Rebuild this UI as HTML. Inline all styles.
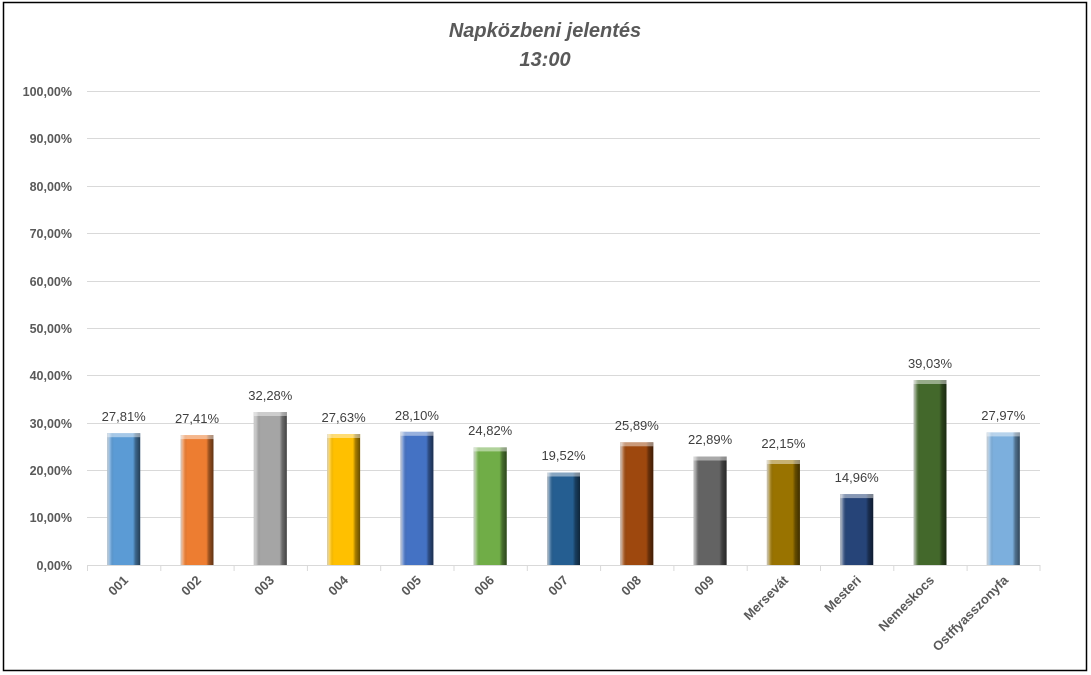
<!DOCTYPE html>
<html><head><meta charset="utf-8"><style>
body{margin:0;background:#fff;}
svg{display:block;font-family:"Liberation Sans",Calibri,sans-serif;}
</style></head><body>
<svg width="1091" height="675" viewBox="0 0 1091 675">
<defs>
<linearGradient id="sh" x1="0" x2="1" y1="0" y2="0">
<stop offset="0" stop-color="#c8c8c8" stop-opacity="0.9"/>
<stop offset="0.1" stop-color="#fff" stop-opacity="0.2"/>
<stop offset="0.2" stop-color="#000" stop-opacity="0"/>
<stop offset="0.78" stop-color="#000" stop-opacity="0"/>
<stop offset="0.86" stop-color="#000" stop-opacity="0.35"/>
<stop offset="1" stop-color="#000" stop-opacity="0.6"/>
</linearGradient>
</defs>
<rect x="0" y="0" width="1091" height="675" fill="#fff"/>
<rect x="3.5" y="2.5" width="1083" height="668" fill="#fff" stroke="#000" stroke-width="1.5"/>
<text x="545" y="37" text-anchor="middle" font-size="20" font-weight="bold" font-style="italic" fill="#595959">Napközbeni jelentés</text>
<text x="545" y="66" text-anchor="middle" font-size="20" font-weight="bold" font-style="italic" fill="#595959">13:00</text>
<g stroke="#d9d9d9" stroke-width="1">
<line x1="87" x2="1040" y1="91.5" y2="91.5"/><line x1="87" x2="1040" y1="138.5" y2="138.5"/>
<line x1="87" x2="1040" y1="186.5" y2="186.5"/><line x1="87" x2="1040" y1="233.5" y2="233.5"/>
<line x1="87" x2="1040" y1="281.5" y2="281.5"/><line x1="87" x2="1040" y1="328.5" y2="328.5"/>
<line x1="87" x2="1040" y1="375.5" y2="375.5"/><line x1="87" x2="1040" y1="423.5" y2="423.5"/>
<line x1="87" x2="1040" y1="470.5" y2="470.5"/><line x1="87" x2="1040" y1="517.5" y2="517.5"/>
<line x1="87" x2="1040" y1="565.5" y2="565.5"/>
<line x1="87.5" x2="87.5" y1="565" y2="571"/><line x1="160.8" x2="160.8" y1="565" y2="571"/>
<line x1="234.1" x2="234.1" y1="565" y2="571"/><line x1="307.4" x2="307.4" y1="565" y2="571"/>
<line x1="380.7" x2="380.7" y1="565" y2="571"/><line x1="454" x2="454" y1="565" y2="571"/>
<line x1="527.3" x2="527.3" y1="565" y2="571"/><line x1="600.6" x2="600.6" y1="565" y2="571"/>
<line x1="673.9" x2="673.9" y1="565" y2="571"/><line x1="747.2" x2="747.2" y1="565" y2="571"/>
<line x1="820.5" x2="820.5" y1="565" y2="571"/><line x1="893.8" x2="893.8" y1="565" y2="571"/>
<line x1="967.1" x2="967.1" y1="565" y2="571"/><line x1="1040" x2="1040" y1="565" y2="571"/>
</g>
<g font-size="12.5" font-weight="bold" fill="#595959" text-anchor="end">
<text x="72" y="96">100,00%</text><text x="72" y="143">90,00%</text><text x="72" y="191">80,00%</text>
<text x="72" y="238">70,00%</text><text x="72" y="286">60,00%</text><text x="72" y="333">50,00%</text>
<text x="72" y="380">40,00%</text><text x="72" y="428">30,00%</text><text x="72" y="475">20,00%</text>
<text x="72" y="522">10,00%</text><text x="72" y="570">0,00%</text>
</g>
<g>
<rect x="107.2" y="433.2" width="33" height="131.8" fill="#5B9BD5"/>
<rect x="180.5" y="435.1" width="33" height="129.9" fill="#ED7D31"/>
<rect x="253.8" y="412" width="33" height="153" fill="#A5A5A5"/>
<rect x="327.1" y="434" width="33" height="131" fill="#FFC000"/>
<rect x="400.4" y="431.8" width="33" height="133.2" fill="#4472C4"/>
<rect x="473.7" y="447.4" width="33" height="117.6" fill="#70AD47"/>
<rect x="547" y="472.5" width="33" height="92.5" fill="#255E91"/>
<rect x="620.3" y="442.3" width="33" height="122.7" fill="#9E480E"/>
<rect x="693.6" y="456.5" width="33" height="108.5" fill="#636363"/>
<rect x="766.9" y="460" width="33" height="105" fill="#997300"/>
<rect x="840.2" y="494.1" width="33" height="70.9" fill="#264478"/>
<rect x="913.5" y="380" width="33" height="185" fill="#43682B"/>
<rect x="986.8" y="432.4" width="33" height="132.6" fill="#7CAFDD"/>
</g>
<g fill="url(#sh)">
<rect x="107.2" y="433.2" width="33" height="131.8"/><rect x="180.5" y="435.1" width="33" height="129.9"/>
<rect x="253.8" y="412" width="33" height="153"/><rect x="327.1" y="434" width="33" height="131"/>
<rect x="400.4" y="431.8" width="33" height="133.2"/><rect x="473.7" y="447.4" width="33" height="117.6"/>
<rect x="547" y="472.5" width="33" height="92.5"/><rect x="620.3" y="442.3" width="33" height="122.7"/>
<rect x="693.6" y="456.5" width="33" height="108.5"/><rect x="766.9" y="460" width="33" height="105"/>
<rect x="840.2" y="494.1" width="33" height="70.9"/><rect x="913.5" y="380" width="33" height="185"/>
<rect x="986.8" y="432.4" width="33" height="132.6"/>
</g>
<g fill="#fff" fill-opacity="0.45">
<rect x="107.2" y="433.2" width="33" height="4"/><rect x="180.5" y="435.1" width="33" height="4"/>
<rect x="253.8" y="412" width="33" height="4"/><rect x="327.1" y="434" width="33" height="4"/>
<rect x="400.4" y="431.8" width="33" height="4"/><rect x="473.7" y="447.4" width="33" height="4"/>
<rect x="547" y="472.5" width="33" height="4"/><rect x="620.3" y="442.3" width="33" height="4"/>
<rect x="693.6" y="456.5" width="33" height="4"/><rect x="766.9" y="460" width="33" height="4"/>
<rect x="840.2" y="494.1" width="33" height="4"/><rect x="913.5" y="380" width="33" height="4"/>
<rect x="986.8" y="432.4" width="33" height="4"/>
</g>
<g font-size="13" fill="#404040" text-anchor="middle">
<text x="123.7" y="421">27,81%</text><text x="197" y="423">27,41%</text>
<text x="270.3" y="400">32,28%</text><text x="343.6" y="422">27,63%</text>
<text x="416.9" y="420">28,10%</text><text x="490.2" y="435">24,82%</text>
<text x="563.5" y="460">19,52%</text><text x="636.8" y="430">25,89%</text>
<text x="710.1" y="444">22,89%</text><text x="783.4" y="448">22,15%</text>
<text x="856.7" y="482">14,96%</text><text x="930" y="368">39,03%</text>
<text x="1003.3" y="420">27,97%</text>
</g>
<g font-size="13" font-weight="bold" fill="#595959" text-anchor="end">
<text transform="translate(129,581) rotate(-45)">001</text>
<text transform="translate(202,581) rotate(-45)">002</text>
<text transform="translate(275,581) rotate(-45)">003</text>
<text transform="translate(349,581) rotate(-45)">004</text>
<text transform="translate(422,581) rotate(-45)">005</text>
<text transform="translate(495,581) rotate(-45)">006</text>
<text transform="translate(569,581) rotate(-45)">007</text>
<text transform="translate(642,581) rotate(-45)">008</text>
<text transform="translate(715,581) rotate(-45)">009</text>
<text transform="translate(789,581) rotate(-45)">Mersevát</text>
<text transform="translate(862,581) rotate(-45)">Mesteri</text>
<text transform="translate(935,581) rotate(-45)">Nemeskocs</text>
<text transform="translate(1009,581) rotate(-45)">Ostffyasszonyfa</text>
</g>
</svg>
</body></html>
